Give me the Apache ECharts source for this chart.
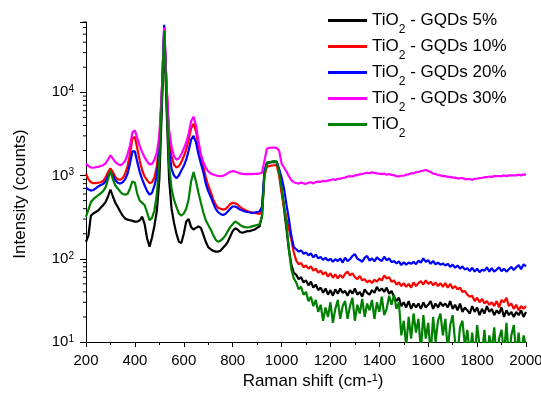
<!DOCTYPE html>
<html>
<head>
<meta charset="utf-8">
<script src="https://cdn.jsdelivr.net/npm/echarts@6/dist/echarts.min.js"></script>
<style>
html,body{margin:0;padding:0;background:#fff;}
#chart{width:541px;height:397px;}
</style>
</head>
<body>
<div id="chart"></div>
<script>
// Raman shift sampling grid (cm-1), 200..2000 every 10
const ramanShift = [];
for (let v = 200; v <= 2000; v += 10) ramanShift.push(v);

const seriesNames = ['TiO2 - GQDs 5%', 'TiO2 - GQDs 10%', 'TiO2 - GQDs 20%', 'TiO2 - GQDs 30%', 'TiO2'];
const seriesColors = ['#000000', '#ff0000', '#0000ff', '#ff00ff', '#008000'];

const gqd5 = [
 160,190,330,350,365,380,410,440,480,560,
 680,560,470,420,370,330,305,295,290,285,
 280,280,290,320,260,175,140,180,250,380,
 900,6000,50000,6000,900,400,270,200,160,155,
 200,280,300,240,225,235,245,235,195,160,
 138,130,125,122,122,125,135,145,160,185,
 215,232,225,210,205,210,215,215,220,225,
 235,245,330,1100,1400,1430,1450,1460,1450,1150,
 700,400,230,130,85,68,
 64,57,60,52,55,48,53,45,49,42,
 45,39,44,37,42,36,43,38,44,39,
 41,36,42,38,44,37,40,35,43,39,
 37,42,39,46,41,44,40,45,38,41,
 35,31,34,27,30,26,31,25,29,26,
 29,25,30,26,28,31,25,29,26,30,
 27,29,26,31,25,28,24,29,23,26,
 24,22,27,23,26,21,25,22,27,23,
 25,21,24,22,26,20,24,21,23,20,
 23,21,24,20,23];

const gqd10 = [
 1050,900,830,810,810,820,830,860,950,1100,
 1220,1100,960,900,890,930,1050,1300,1800,2800,
 2900,2100,1500,1150,970,880,810,830,950,1300,
 2600,9500,58000,11000,3000,1700,1350,1250,1300,1450,
 1700,2050,2700,3700,4200,3400,2300,1700,1300,950,
 760,640,520,450,410,400,390,395,420,455,
 470,465,450,420,400,385,375,365,360,355,
 350,345,380,1000,1280,1300,1320,1330,1340,1000,
 620,420,300,230,170,120,
 95,86,89,79,83,76,81,72,76,68,
 72,65,69,61,67,59,65,58,64,59,
 66,70,63,67,60,57,62,55,57,52,
 55,51,56,53,58,55,63,58,60,53,
 55,49,52,47,51,46,50,45,52,47,
 51,54,49,55,50,53,48,52,47,51,
 46,51,45,50,44,47,43,45,40,41,
 37,35,36,31,34,30,33,29,31,28,
 30,27,31,26,32,30,34,27,29,25,
 28,24,27,25,27];

const gqd20 = [
 720,680,660,670,700,740,770,790,850,980,
 1100,1000,880,820,800,830,900,1050,1400,1950,
 1950,1450,1100,900,760,650,590,620,760,1000,
 2000,9000,65000,10000,2000,1200,1000,930,1000,1150,
 1300,1550,2000,2700,3000,2500,1800,1400,1100,800,
 650,560,470,400,365,345,335,345,370,400,
 425,425,410,390,380,370,365,360,355,360,
 365,370,420,1100,1430,1450,1460,1480,1470,1200,
 950,700,450,300,190,138,
 130,122,126,115,119,110,116,104,112,101,
 105,97,103,95,100,92,99,94,101,90,
 103,94,99,108,114,100,97,92,103,108,
 95,101,93,104,98,94,106,96,101,91,
 94,88,93,84,91,85,90,87,92,86,
 95,90,101,92,96,87,94,86,90,85,
 88,83,87,80,85,78,83,76,81,74,
 77,71,78,70,76,69,74,72,79,70,
 77,70,74,79,71,76,70,75,80,73,
 79,84,75,86,81];

const gqd30 = [
 1400,1300,1250,1240,1260,1270,1300,1330,1400,1550,
 1750,1600,1450,1380,1330,1380,1500,1800,2300,3300,
 3500,2800,2250,1900,1650,1480,1360,1380,1550,1900,
 3000,10000,60000,12000,3500,2200,1700,1550,1600,1800,
 2100,2500,3200,4500,5100,4000,2600,1800,1450,1250,
 1120,1060,1030,1010,990,980,990,1020,1070,1110,
 1130,1120,1090,1060,1050,1040,1040,1050,1040,1050,
 1050,1060,1080,1500,2100,2150,2170,2170,2150,2000,
 1400,1250,1120,980,880,830,
 815,800,825,805,795,820,830,805,835,845,
 840,865,850,875,880,905,885,915,920,935,
 945,975,985,975,1005,1010,1035,1045,1065,1080,
 1065,1095,1075,1060,1055,1035,1055,1025,1045,1015,
 1010,985,980,995,995,1025,1035,1065,1065,1095,
 1105,1135,1145,1165,1135,1105,1055,1045,1015,1005,
 985,985,965,965,945,945,925,925,935,905,
 905,910,885,915,915,935,935,955,955,975,
 965,985,985,985,985,1005,985,1005,1005,1005,
 1005,1025,1005,1035,1020];

const tio2 = [
 320,390,480,520,550,580,610,650,720,900,
 1150,900,760,700,640,600,590,600,700,850,
 820,600,500,470,440,360,290,310,380,600,
 1500,8000,55000,8000,1300,700,510,420,350,330,
 350,400,520,850,1100,850,620,470,360,290,
 255,225,195,170,160,165,175,190,215,240,
 260,280,270,255,245,240,238,240,245,250,
 255,260,320,1000,1420,1450,1470,1480,1470,1100,
 700,450,250,130,75,58,
 52,43,46,37,40,31,35,27,32,23,
 28,18,26,20,30,17,25,32,19,27,
 31,19,27,34,18,28,22,33,20,29,
 24,32,19,30,23,35,21,25,36,28,
 37,25,30,12,18,9,20,11,22,13,
 19,8,21,11,17,7,20,10,18,22,
 12,19,8,16,21,10,7,15,18,9,
 14,7,13,6,16,9,7,14,6,12,
 8,15,6,11,14,7,17,6,12,16,
 7,13,6,12,9];

// y-axis minor tick values (log axis, 2..9 per decade)
const yMinorTicks = [20,30,40,50,60,70,80,90,
  200,300,400,500,600,700,800,900,
  2000,3000,4000,5000,6000,7000,8000,9000,
  20000,30000,40000,50000,60000,70000];

const xMin = 200, xMax = 2000, xInterval = 200;
const yMin = 10, yMax = 70000;

const FONT = "'Liberation Sans', Arial, sans-serif";
const allData = [gqd5, gqd10, gqd20, gqd30, tio2];

function pairs(ys) { return ys.map((y, i) => [ramanShift[i], y]); }

const lineSeries = seriesNames.map((name, k) => ({
  name: name,
  type: 'line',
  data: pairs(allData[k]),
  showSymbol: false,
  symbol: 'none',
  clip: true,
  lineStyle: { color: seriesColors[k], width: 2.2 },
  itemStyle: { color: seriesColors[k] },
  z: 2 + k
}));

const minorTickSeries = {
  type: 'custom',
  silent: true,
  clip: false,
  data: yMinorTicks.map(v => [xMin, v]),
  encode: { x: 0, y: 1 },
  renderItem: function (params, api) {
    const p = api.coord([api.value(0), api.value(1)]);
    return {
      type: 'line',
      shape: { x1: p[0] - 3, y1: p[1], x2: p[0], y2: p[1] },
      style: { stroke: '#000', lineWidth: 1 }
    };
  },
  z: 10
};

const chart = echarts.init(document.getElementById('chart'), null, { renderer: 'canvas' });
chart.setOption({
  animation: false,
  backgroundColor: '#ffffff',
  grid: { left: 86, right: 15, top: 22, bottom: 55, containLabel: false, outerBoundsMode: 'none' },
  legend: {
    orient: 'vertical',
    left: 323,
    top: 0,
    itemWidth: 39,
    itemHeight: 3,
    itemGap: -5,
    icon: 'rect',
    selectedMode: false,
    data: seriesNames,
    formatter: function (name) {
      const rest = name.slice(4);
      return '{t|TiO}{s|2}' + (rest ? '{t|' + rest + '}' : '');
    },
    textStyle: {
      fontFamily: FONT, fontSize: 17, color: '#000',
      rich: {
        t: { fontFamily: FONT, fontSize: 17, color: '#000', lineHeight: 20 },
        s: { fontFamily: FONT, fontSize: 12, color: '#000', lineHeight: 12, padding: [19, 0, 0, 0] }
      }
    }
  },
  xAxis: {
    type: 'value',
    min: xMin, max: xMax, interval: xInterval,
    name: 'Raman shift (cm-¹)',
    nameLocation: 'middle',
    nameGap: 31,
    nameTextStyle: { fontFamily: FONT, fontSize: 17, color: '#000', padding: [0, 0, 0, 14] },
    axisLine: { show: true, onZero: false, lineStyle: { color: '#000', width: 1 } },
    axisTick: { show: true, inside: false, length: 5, lineStyle: { color: '#000' } },
    minorTick: { show: true, splitNumber: 2, length: 3, lineStyle: { color: '#000' } },
    splitLine: { show: false },
    axisLabel: {
      fontFamily: FONT, fontSize: 15, color: '#000', margin: 11,
      formatter: function (v) { return String(v); }
    }
  },
  yAxis: {
    type: 'log',
    logBase: 10,
    min: yMin, max: yMax,
    name: 'Intensity (counts)',
    nameLocation: 'middle',
    nameGap: 57,
    nameTextStyle: { fontFamily: FONT, fontSize: 17, color: '#000', padding: [0, 24, 0, 0] },
    axisLine: { show: true, onZero: false, lineStyle: { color: '#000', width: 1 } },
    axisTick: { show: true, inside: false, length: 6, lineStyle: { color: '#000' } },
    splitLine: { show: false },
    axisLabel: {
      margin: 12,
      formatter: function (v) {
        const e = Math.log10(v);
        const r = Math.round(e);
        if (Math.abs(e - r) > 1e-6) return '';
        return '{b|10}{e|' + r + '}';
      },
      rich: {
        b: { fontFamily: FONT, fontSize: 15, color: '#000' },
        e: { fontFamily: FONT, fontSize: 10, color: '#000', padding: [0, 0, 6, 0] }
      }
    }
  },
  series: lineSeries.concat([minorTickSeries])
});
</script>
</body>
</html>
